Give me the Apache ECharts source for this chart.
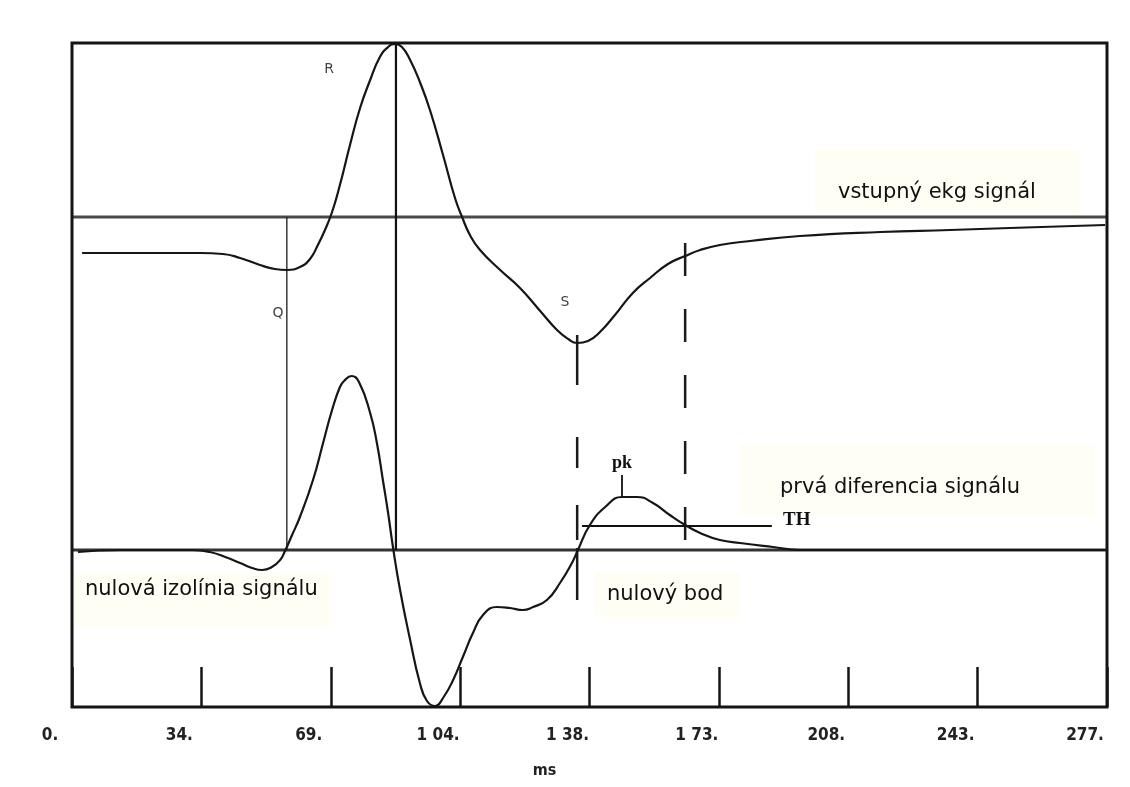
<!DOCTYPE html>
<html>
<head>
<meta charset="utf-8">
<script src="https://cdn.jsdelivr.net/npm/echarts@6/dist/echarts.min.js"></script>
<style>
  html, body { margin: 0; padding: 0; background: #ffffff; }
  #chart { width: 1130px; height: 787px; }
</style>
</head>
<body>
<div id="chart"></div>
<script>
// ---- data (time in ms, amplitude in arbitrary units) ----
var xTickLabels = ['0.', '34.', '69.', '1 04.', '1 38.', '1 73.', '208.', '243.', '277.'];

// input ECG signal, relative to its own isoline
var ecgTime = [2.7, 12.9, 23.6, 34.3, 40.4, 45.0, 50.3, 54.3, 57.5, 61.0, 63.7, 65.8, 67.7, 69.6,
  71.7, 74.4, 77.1, 79.8, 82.4, 84.6, 86.5, 88.3, 90.5, 93.1, 95.8, 99.3, 102.5, 104.4, 106.5,
  109.2, 114.6, 119.9, 125.3, 129.8, 132.8, 135.2, 138.1, 141.3, 145.3, 150.1, 154.7, 159.5,
  164.1, 168.1, 173.4, 181.5, 194.8, 216.3, 235.0, 251.0, 276.5];
var ecgValue = [-0.36, -0.36, -0.36, -0.36, -0.37, -0.41, -0.48, -0.52, -0.53, -0.50, -0.42, -0.28, -0.13, 0.05,
  0.32, 0.72, 1.09, 1.37, 1.60, 1.70, 1.73, 1.70, 1.57, 1.35, 1.07, 0.62, 0.19, 0.00, -0.18,
  -0.33, -0.53, -0.71, -0.94, -1.13, -1.22, -1.26, -1.24, -1.15, -0.98, -0.76, -0.61, -0.47,
  -0.39, -0.33, -0.28, -0.24, -0.19, -0.15, -0.13, -0.11, -0.08];

// first difference of the signal
var diffTime = [1.6, 12.9, 23.6, 32.4, 36.9, 41.0, 45.0, 48.2, 50.9, 53.5, 55.7, 57.0, 58.9, 61.0,
  64.5, 67.2, 69.6, 71.7, 72.8, 74.8, 76.8, 79.8, 81.6, 83.2, 84.6, 85.9, 87.8, 90.5, 93.1, 95.0,
  97.2, 99.3, 102.0, 104.6, 107.3, 110.0, 113.7, 117.2, 120.7, 123.4, 127.1, 130.6, 133.8, 135.4,
  138.6, 142.7, 147.2, 151.2, 155.5, 160.0, 164.1, 168.1, 173.4, 178.8, 187.6, 194.8, 221.6,
  248.4, 276.5];
var diffValue = [-0.02, 0, 0, 0, -0.02, -0.07, -0.13, -0.18, -0.20, -0.17, -0.10, -0.01, 0.15, 0.33,
  0.70, 1.07, 1.40, 1.63, 1.69, 1.74, 1.68, 1.37, 1.07, 0.70, 0.37, 0.03, -0.40, -0.90, -1.33, -1.51,
  -1.56, -1.48, -1.30, -1.07, -0.83, -0.65, -0.57, -0.58, -0.60, -0.57, -0.50, -0.33, -0.13, 0.00,
  0.25, 0.43, 0.53, 0.53, 0.47, 0.35, 0.25, 0.17, 0.10, 0.07, 0.03, 0, 0,
  0, 0];

// marked instants (ms)
var qTime = 57.5, rTime = 86.7, sTime = 135.2, endTime = 164.1, pkTime = 147.2;
var thStart = 136.5, thEnd = 187.3, thLevel = 0.24;
var pkTickLow = 0.53, pkTickHigh = 0.75;
var sDashTop = 2.15, sDashBottom = -0.5;
var endDashTop = 3.07, endDashBottom = 0.08;

// ---- layout ----
var ECG_BASE = 3.33;     // where the ECG isoline sits on the shared vertical scale
var Y_MIN = -1.57, Y_MAX = 5.07;
var X_MAX = 277, X_STEP = 34.625;

function pairs(t, v, off) { return t.map(function (x, i) { return [x, v[i] + off]; }); }
function seg(data, color, width, type, z) {
  return { type: 'line', data: data, symbol: 'none', silent: true, animation: false, z: z || 3,
    lineStyle: { color: color, width: width, type: type || 'solid', cap: 'butt' } };
}

var chart = echarts.init(document.getElementById('chart'), null, { renderer: 'canvas' });
var fontTxt = '21px "DejaVu Sans", Verdana, sans-serif';
var bg = '#fffef5';
var axisFont = '"Liberation Sans Narrow", "DejaVu Sans Condensed", sans-serif';

chart.setOption({
  backgroundColor: '#ffffff',
  animation: false,
  grid: { left: 72, top: 43, width: 1035, height: 664, show: true, borderColor: '#141414', borderWidth: 3, backgroundColor: 'transparent', z: 5 },
  xAxis: {
    type: 'value', min: 0, max: X_MAX, interval: X_STEP,
    axisLine: { show: false, onZero: false },
    axisTick: { show: true, inside: true, length: 40, lineStyle: { color: '#151515', width: 2.5 } },
    splitLine: { show: false },
    axisLabel: {
      show: true, margin: 20, color: '#222', fontSize: 17, fontWeight: 'bold', fontFamily: axisFont,
      padding: [0, 44, 0, 0], showMinLabel: true, showMaxLabel: true, hideOverlap: false,
      formatter: function (v) { return xTickLabels[Math.round(v / X_STEP)]; }
    },
    name: 'ms', nameLocation: 'middle', nameGap: 56,
    nameTextStyle: { color: '#222', fontSize: 16, fontWeight: 'bold', padding: [0, 90, 0, 0], fontFamily: axisFont }
  },
  yAxis: { type: 'value', min: Y_MIN, max: Y_MAX, show: false, splitLine: { show: false } },
  series: [
    seg([[0, ECG_BASE], [X_MAX, ECG_BASE]], '#4a4a4a', 3),
    seg([[0, 0], [X_MAX, 0]], '#333333', 3),
    seg([[qTime, ECG_BASE], [qTime, 0]], '#1a1a1a', 1.3),
    seg([[rTime, Y_MAX], [rTime, 0]], '#111111', 2.2),
    seg([[sTime, sDashTop], [sTime, sDashBottom]], '#1a1a1a', 2.5, [50, 52, 31, 37, 35, 8, 60]),
    seg([[endTime, endDashTop], [endTime, endDashBottom]], '#1a1a1a', 2.5, [33, 33]),
    seg([[thStart, thLevel], [thEnd, thLevel]], '#111111', 2),
    seg([[pkTime, pkTickLow], [pkTime, pkTickHigh]], '#111111', 1.8),
    Object.assign(seg(pairs(ecgTime, ecgValue, ECG_BASE), '#161616', 2.2, 'solid', 4), { smooth: 0.5 }),
    Object.assign(seg(pairs(diffTime, diffValue, 0), '#161616', 2.2, 'solid', 4), { smooth: 0.5 })
  ],
  graphic: [
    { type: 'rect', z: 0, shape: { x: 815, y: 150, width: 265, height: 62 }, style: { fill: bg } },
    { type: 'rect', z: 0, shape: { x: 740, y: 445, width: 355, height: 70 }, style: { fill: bg } },
    { type: 'rect', z: 0, shape: { x: 74, y: 572, width: 255, height: 55 }, style: { fill: bg } },
    { type: 'rect', z: 0, shape: { x: 595, y: 572, width: 145, height: 45 }, style: { fill: bg } },
    { type: 'text', z: 100, x: 838, y: 193, style: { text: 'vstupný ekg signál', font: fontTxt, fill: '#111', textVerticalAlign: 'middle' } },
    { type: 'text', z: 100, x: 780, y: 488, style: { text: 'prvá diferencia signálu', font: fontTxt, fill: '#111', textVerticalAlign: 'middle' } },
    { type: 'text', z: 100, x: 607, y: 595, style: { text: 'nulový bod', font: fontTxt, fill: '#111', textVerticalAlign: 'middle' } },
    { type: 'text', z: 100, x: 85, y: 590, style: { text: 'nulová izolínia signálu', font: fontTxt, fill: '#111', textVerticalAlign: 'middle' } },
    { type: 'text', z: 100, x: 329, y: 69, style: { text: 'R', font: '14px "DejaVu Sans", sans-serif', fill: '#444', textAlign: 'center', textVerticalAlign: 'middle' } },
    { type: 'text', z: 100, x: 278, y: 313, style: { text: 'Q', font: '14px "DejaVu Sans", sans-serif', fill: '#444', textAlign: 'center', textVerticalAlign: 'middle' } },
    { type: 'text', z: 100, x: 565, y: 302, style: { text: 'S', font: '14px "DejaVu Sans", sans-serif', fill: '#444', textAlign: 'center', textVerticalAlign: 'middle' } },
    { type: 'text', z: 100, x: 622, y: 463, style: { text: 'pk', font: 'bold 18px "Liberation Serif", serif', fill: '#111', textAlign: 'center', textVerticalAlign: 'middle' } },
    { type: 'text', z: 100, x: 783, y: 520, style: { text: 'TH', font: 'bold 19px "Liberation Serif", serif', fill: '#111', textVerticalAlign: 'middle' } }
  ]
});
</script>
</body>
</html>
